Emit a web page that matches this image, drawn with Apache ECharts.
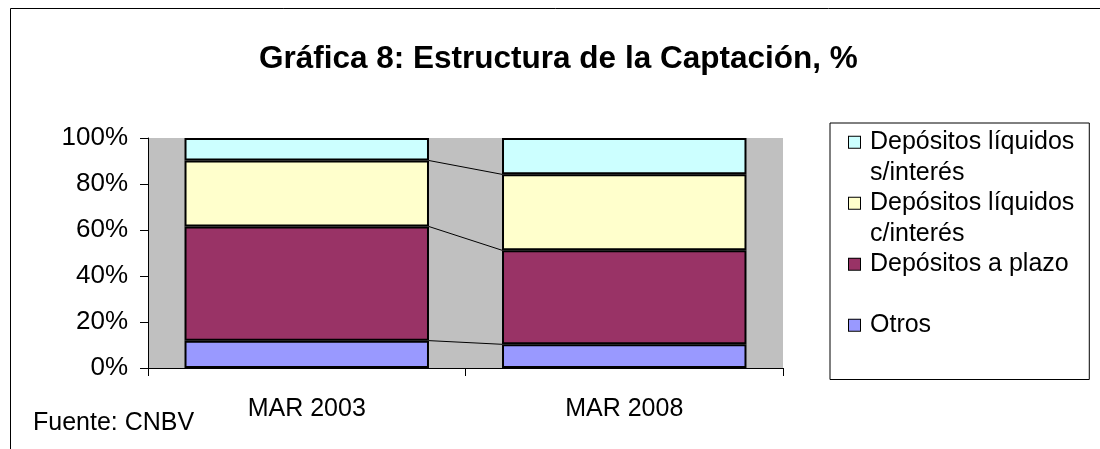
<!DOCTYPE html>
<html lang="es">
<head>
    <meta charset="UTF-8">
    <title>Gráfica 8: Estructura de la Captación</title>
    <script src="https://cdn.jsdelivr.net/npm/echarts@6/dist/echarts.min.js"></script>
    <style>
        html, body { margin: 0; padding: 0; background: #fff; }
        #chart { width: 1100px; height: 449px; }
    </style>
</head>
<body>
    <div id="chart"></div>
    <script type="text/javascript">
        // datos (%)
        var periodos = ['MAR 2003', 'MAR 2008'];
        var otros = [11.9, 10.3];
        var plazo = [49.6, 40.9];
        var liqConInteres = [28.7, 33.0];
        var liqSinInteres = [9.8, 15.8];
        var yTicks = [0, 20, 40, 60, 80, 100];

        var nombres = ['Otros', 'Depósitos a plazo', 'Depósitos líquidos c/interés', 'Depósitos líquidos s/interés'];
        var colores = ['#9999FF', '#993366', '#FFFFCC', '#CCFFFF'];
        var valores = [otros, plazo, liqConInteres, liqSinInteres];
        var FONT = "'Liberation Sans', Arial, sans-serif";
        var BAR_RATIO = 0.77;

        // cortes acumulados para las líneas de serie entre barras
        var cortes = [];
        var accA = 0, accB = 0;
        for (var i = 0; i < valores.length - 1; i++) {
            accA += valores[i][0];
            accB += valores[i][1];
            cortes.push([0, accA, accB]);
        }

        // texto de la leyenda con el cuadro de color en la primera línea
        var etiquetas = {
            'Depósitos líquidos s/interés': ['Depósitos líquidos', 's/interés'],
            'Depósitos líquidos c/interés': ['Depósitos líquidos', 'c/interés'],
            'Depósitos a plazo': ['Depósitos a plazo', ' '],
            'Otros': ['Otros']
        };
        var rich = {
            t: { fontSize: 25, lineHeight: 30.5, fontFamily: FONT, color: '#000', padding: [0, 0, 0, 10] },
            t2: { fontSize: 25, lineHeight: 30.5, fontFamily: FONT, color: '#000', padding: [0, 0, 0, 21] }
        };
        colores.forEach(function (c, k) {
            rich['k' + k] = { width: 11, height: 11, backgroundColor: c, borderColor: '#000', borderWidth: 1 };
        });

        var series = nombres.map(function (n, k) {
            return {
                name: n,
                type: 'bar',
                stack: 'total',
                barWidth: (BAR_RATIO * 100) + '%',
                data: valores[k],
                itemStyle: { color: colores[k], borderColor: '#000', borderWidth: 2 }
            };
        });
        series.push({
            name: 'lineas',
            type: 'custom',
            data: cortes,
            encode: { x: 0, y: [1, 2] },
            silent: true,
            z: 1,
            renderItem: function (params, api) {
                var a = api.coord([0, api.value(1)]);
                var b = api.coord([1, api.value(2)]);
                var half = api.size([1, 0])[0] * BAR_RATIO / 2;
                return {
                    type: 'line',
                    shape: { x1: a[0] + half, y1: a[1], x2: b[0] - half, y2: b[1] },
                    style: { stroke: '#000', lineWidth: 1 }
                };
            }
        });

        var myChart = echarts.init(document.getElementById('chart'));
        var option = {
            animation: false,
            backgroundColor: '#fff',
            title: {
                text: 'Gráfica 8: Estructura de la Captación, %',
                left: 259,
                top: 43,
                padding: 0,
                textStyle: { fontSize: 31.5, fontWeight: 'bold', fontFamily: FONT, color: '#000' }
            },
            legend: {
                orient: 'vertical',
                left: 830,
                top: 123,
                padding: [4, 15, 39, 13],
                itemGap: 0,
                itemWidth: 1,
                itemHeight: 1,
                icon: 'none',
                borderColor: '#000',
                borderWidth: 1,
                data: nombres.slice().reverse(),
                formatter: function (name) {
                    var k = nombres.indexOf(name);
                    var lineas = etiquetas[name];
                    var s = '{k' + k + '|}{t|' + lineas[0] + '}';
                    for (var j = 1; j < lineas.length; j++) {
                        s += '\n{t2|' + lineas[j] + '}';
                    }
                    return s;
                },
                textStyle: { fontSize: 25, lineHeight: 30.5, fontFamily: FONT, color: '#000', rich: rich }
            },
            graphic: [
                {
                    type: 'rect',
                    shape: { x: 10.5, y: 8.5, width: 1200, height: 600 },
                    style: { fill: null, stroke: '#000', lineWidth: 1 },
                    silent: true
                },
                {
                    type: 'text',
                    left: 33,
                    top: 411,
                    style: { text: 'Fuente: CNBV', fontSize: 25, fontFamily: FONT, fill: '#000' }
                }
            ],
            grid: {
                left: 148,
                right: 317,
                top: 138,
                bottom: 81,
                show: true,
                backgroundColor: '#C0C0C0',
                borderWidth: 0
            },
            xAxis: {
                type: 'category',
                data: periodos,
                axisLine: { lineStyle: { color: '#000', width: 1 } },
                axisTick: { show: true, length: 8, lineStyle: { color: '#000' } },
                axisLabel: { fontSize: 25, fontFamily: FONT, color: '#000', margin: 29 }
            },
            yAxis: {
                type: 'value',
                min: yTicks[0],
                max: yTicks[yTicks.length - 1],
                interval: yTicks[1] - yTicks[0],
                axisLine: { show: true, lineStyle: { color: '#000', width: 1 } },
                axisTick: { show: true, length: 8, lineStyle: { color: '#000' } },
                splitLine: { show: false },
                axisLabel: { fontSize: 26, fontFamily: FONT, color: '#000', margin: 20, formatter: '{value}%' }
            },
            series: series
        };
        myChart.setOption(option);
    </script>
</body>
</html>
